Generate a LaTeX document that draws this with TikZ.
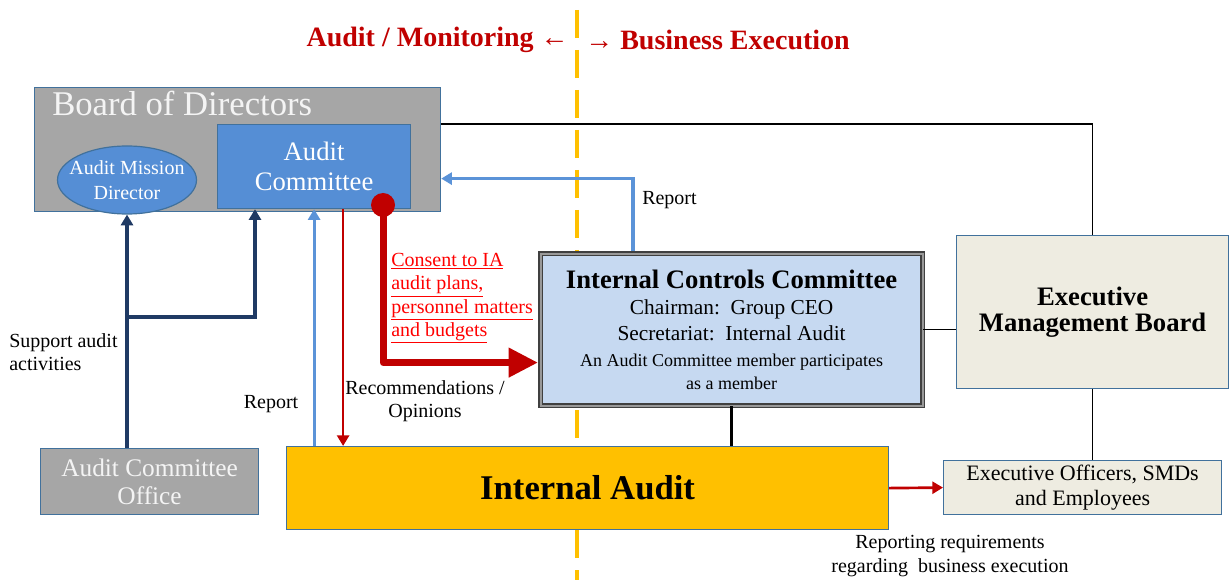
\documentclass[tikz,border=0pt]{standalone}
\usepackage{fontspec}
\setmainfont{Liberation Serif}
\usetikzlibrary{arrows.meta,calc,shapes.geometric}
\definecolor{boardgray}{HTML}{A6A6A6}
\definecolor{edgeblue}{HTML}{41719C}
\definecolor{cmtblue}{HTML}{558ED5}
\definecolor{navyline}{HTML}{1F3A64}
\definecolor{skyline}{HTML}{5B93D8}
\definecolor{darkred}{HTML}{C00000}
\definecolor{brightred}{HTML}{FF0000}
\definecolor{iccblue}{HTML}{C6D9F1}
\definecolor{embbeige}{HTML}{EEECE1}
\definecolor{iaorange}{HTML}{FFC000}
\definecolor{titlewhite}{HTML}{F4F4F4}
\newcommand\fsz[2]{\fontsize{#1}{#2}\selectfont}

\begin{document}
\begin{tikzpicture}[x=0.75pt,y=-0.75pt,
  box/.style={draw=edgeblue,line width=0.9pt,anchor=north west,inner sep=0pt,align=center},
  lbl/.style={font=\fsz{15}{17.5},align=center,inner sep=0pt},
  darkarrow/.style={draw=navyline,line width=2.3pt,-{Triangle[length=8pt,width=9pt]}},
  lightarrow/.style={draw=skyline,line width=2.3pt,-{Triangle[length=8pt,width=9pt]}},
  redarrow/.style={draw=darkred,line width=2pt,-{Triangle[length=8pt,width=9pt]}},
  thickred/.style={draw=darkred,line width=5.25pt,line join=round,-{Triangle[length=22pt,width=21pt]}},
  blackline/.style={draw=black,line width=1.1pt}]
  \useasboundingbox (0,0) rectangle (1230,580);

  \draw[draw=iaorange,line width=3pt,dash pattern=on 21pt off 9pt] (577,10) -- (577,580);

  \node[anchor=east,inner sep=0pt,text=darkred,font=\fsz{21}{24}\bfseries] (audmon) at (569,40) {Audit / Monitoring ←};
  \node[anchor=west,inner sep=0pt,text=darkred,font=\fsz{21}{24}\bfseries] (busexe) at (585,40) {→ Business Execution};

  \node[box,fill=boardgray,minimum width=304.5pt,minimum height=93pt] (board) at (34,87) {};
  \node[anchor=base west,inner sep=0pt,text=titlewhite,font=\fsz{26}{30}] (boardtitle) at (52,116) {Board of Directors};
  \node[ellipse,draw=edgeblue,line width=0.9pt,fill=cmtblue,text=white,minimum width=104.25pt,minimum height=51pt,inner xsep=-10pt,inner ysep=-4pt,align=center,font=\fsz{15}{18.75}] (amd) at (127,180) {Audit Mission\\Director};
  \node[box,fill=cmtblue,text=white,minimum width=144.75pt,minimum height=63pt,font=\fsz{20}{22.5}] (ac) at (217,124) {Audit\\Committee};
  \node[circle,fill=darkred,minimum size=18pt,inner sep=0pt] (dot) at (383,205) {};

  \node[box,draw=black!75,double=black!40,double distance=1.6pt,line width=0.9pt,fill=iccblue,minimum width=286.5pt,minimum height=114pt,font=\fsz{16}{19.5}] (icc) at (540,253)
    {\fsz{20}{22}\bfseries Internal Controls Committee\\
     Chairman:~~Group CEO\\
     Secretariat:~~Internal Audit\\
     \fsz{13.5}{17}An Audit Committee member participates\\[-2pt]
     \fsz{13.5}{17}as a member};
  \node[box,fill=embbeige,minimum width=204pt,minimum height=114.75pt,font=\fsz{20}{19}\bfseries] (emb) at (956,235) {Executive\\Management Board};
  \node[box,fill=embbeige,minimum width=208.5pt,minimum height=40.5pt,font=\fsz{16.5}{18.75}] (eoe) at (943,460) {Executive Officers, SMDs\\and Employees};
  \node[box,fill=iaorange,minimum width=451.5pt,minimum height=62.25pt,font=\fsz{26}{30}\bfseries] (ia) at (286,446) {Internal Audit};
  \node[box,fill=boardgray,text=titlewhite,minimum width=163.5pt,minimum height=49.5pt,font=\fsz{19}{21}] (aco) at (40,448) {Audit Committee\\Office};

  \node[lbl,anchor=west] (rptup) at (642,200) {Report};
  \node[lbl,anchor=north west,align=left] (support) at (9,333) {Support audit\\activities};
  \node[lbl] (rptia) at (271,404) {Report};
  \node[lbl] (recom) at (425,401) {Recommendations /\\Opinions};
  \node[lbl,anchor=north west,align=left,text=brightred] (consent) at (391,253)
    {\underline{Consent to IA}\\\underline{audit plans,}\\\underline{personnel matters}\\\underline{and budgets}};
  \node[lbl] (reqs) at (950,556) {Reporting requirements\\regarding~~business execution};

  \coordinate (fork) at (amd.south |- 0,317);
  \draw[darkarrow] (amd.south |- aco.north) -- (amd.south);
  \draw[darkarrow] (fork) -| ($(ac.south west)+(38,0)$);
  \draw[lightarrow] (ac.south |- ia.north) -- (ac.south);
  \coordinate (recfoot) at ($(ac.south)+(29,0)$);
  \draw[redarrow] (recfoot) -- (recfoot |- ia.north);
  \coordinate (consentin) at ($(icc.west)+(-2,33)$);
  \draw[thickred] (dot.center) |- (consentin);
  \coordinate (rptfoot) at ($(icc.north west)+(93,-2)$);
  \draw[lightarrow] (rptfoot) |- ($(board.east)+(0,29)$);
  \coordinate (boardtap) at ($(board.north east)+(0,37)$);
  \draw[blackline] (boardtap) -| (emb.north);
  \draw[blackline] (icc.east) -- (icc.east -| emb.west);
  \draw[blackline] (emb.south) -- (emb.south |- eoe.north);
  \draw[blackline,line width=2pt] (icc.south) -- (icc.south |- ia.north);
  \draw[redarrow] (ia.east) -- (eoe.west);
\end{tikzpicture}
\end{document}
